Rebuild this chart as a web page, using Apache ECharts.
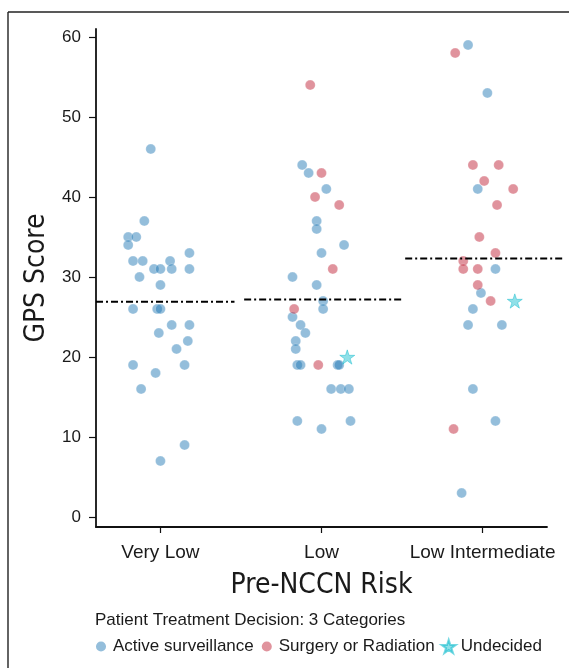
<!DOCTYPE html>
<html>
<head>
<meta charset="utf-8">
<script src="https://cdn.jsdelivr.net/npm/echarts@6/dist/echarts.min.js"></script>
<style>
  html, body { margin: 0; padding: 0; background: #fff; }
  #main { width: 569px; height: 668px; }
</style>
</head>
<body>
<div id="main"></div>
<script>
// categories on the x axis (placed at x = 1, 2, 3, points jittered around them)
const categories = ['Very Low', 'Low', 'Low Intermediate'];
const yTicks = [0, 10, 20, 30, 40, 50, 60];

// [jittered x, GPS score]
const activeSurveillance = [
  // Very Low
  [0.94, 46], [0.90, 37], [0.80, 35], [0.85, 35], [0.80, 34], [1.18, 33],
  [0.83, 32], [0.89, 32], [1.06, 32], [0.96, 31], [1.00, 31], [1.07, 31],
  [1.18, 31], [0.87, 30], [1.00, 29], [0.83, 26], [0.98, 26], [1.00, 26],
  [1.07, 24], [1.18, 24], [0.99, 23], [1.17, 22], [1.10, 21], [0.83, 19],
  [1.15, 19], [0.97, 18], [0.88, 16], [1.15, 9], [1.00, 7],
  // Low
  [1.88, 44], [1.92, 43], [2.03, 41], [1.97, 37], [1.97, 36], [2.14, 34],
  [2.00, 33], [1.82, 30], [1.97, 29], [2.01, 27], [2.01, 26], [1.82, 25],
  [1.87, 24], [1.90, 23], [1.84, 22], [1.84, 21], [1.85, 19], [1.87, 19],
  [2.10, 19], [2.11, 19], [2.06, 16], [2.12, 16], [2.17, 16], [1.85, 12],
  [2.18, 12], [2.00, 11],
  // Low Intermediate
  [2.91, 59], [3.03, 53], [2.97, 41], [3.08, 31], [2.99, 28], [2.94, 26],
  [2.91, 24], [3.12, 24], [2.94, 16], [3.08, 12], [2.87, 3]
];
const surgeryOrRadiation = [
  // Low
  [1.93, 54], [2.00, 43], [1.96, 40], [2.11, 39], [2.07, 31], [1.83, 26], [1.98, 19],
  // Low Intermediate
  [2.83, 58], [2.94, 44], [3.10, 44], [3.01, 42], [3.19, 41], [3.09, 39],
  [2.98, 35], [3.08, 33], [2.88, 32], [2.88, 31], [2.97, 31], [2.97, 29],
  [3.05, 27], [2.82, 11]
];
const undecided = [[2.16, 20], [3.20, 27]];

// group means (dash-dot lines)
const groupMeans = [26.9, 27.2, 32.3];

const starPath = 'path://M50 0 L61.17 34.63 L97.55 34.55 L68.07 55.87 L79.39 90.45 L50 69 L20.61 90.45 L31.93 55.87 L2.45 34.55 L38.83 34.63 Z';
// dot inside a 100x100 box, so the legend circles come out smaller than the star
const dotIcon = 'path://M0 0h0.1v0.1h-0.1z M99.9 99.9h0.1v0.1h-0.1z M50 14a36 36 0 1 0 0.001 0z';

const blue = 'rgba(31,119,180,0.6)';
const red = 'rgba(190,30,50,0.6)';
const teal = 'rgba(23,190,207,0.6)';
const font = "'Liberation Sans', Arial, sans-serif";
const narrow = "'Liberation Sans Narrow', 'DejaVu Sans Condensed', 'Liberation Sans', sans-serif";
const ink = '#1a1a1a';

// mean lines live on a second, invisible grid that runs a bit past the x axis end
const meanSeries = groupMeans.map((m, i) => ({
  name: 'mean ' + categories[i],
  type: 'line',
  xAxisIndex: 1, yAxisIndex: 1,
  data: [[i === 0 ? 0.6 : i + 0.52, m], [i === 0 ? 1.46 : i + 1.5, m]],
  symbol: 'none',
  silent: true,
  z: 5,
  lineStyle: { color: '#000', width: 2, type: [7, 3, 2, 3] }
}));

const chart = echarts.init(document.getElementById('main'));
chart.setOption({
  animation: false,
  title: {
    text: 'Patient Treatment Decision: 3 Categories',
    left: 95, top: 612, padding: 0,
    textStyle: { fontFamily: font, fontSize: 17, fontWeight: 'normal', color: ink }
  },
  legend: {
    left: 94, top: 638, padding: 0,
    itemWidth: 14, itemHeight: 14, itemGap: 6,
    textStyle: { fontFamily: font, fontSize: 17, color: ink },
    data: [
      { name: 'Active surveillance', icon: dotIcon, itemStyle: { borderWidth: 0 } },
      { name: 'Surgery or Radiation', icon: dotIcon, itemStyle: { borderWidth: 0 } },
      { name: 'Undecided', icon: starPath }
    ]
  },
  grid: [
    { left: 96, right: 22, top: 29, bottom: 141, containLabel: false, outerBoundsMode: 'none' },
    { left: 96, right: 6, top: 29, bottom: 141, containLabel: false, outerBoundsMode: 'none' }
  ],
  xAxis: [{
    type: 'value', min: 0.6, max: 3.4,
    name: 'Pre-NCCN Risk', nameLocation: 'middle', nameGap: 45,
    nameTextStyle: { fontFamily: narrow, fontSize: 28, color: ink },
    axisLine: { onZero: false, lineStyle: { color: '#111', width: 1.8 } },
    axisTick: { customValues: [1, 2, 3], length: 6, lineStyle: { color: '#111', width: 1.2 } },
    axisLabel: {
      customValues: [1, 2, 3], margin: 16,
      formatter: v => categories[Math.round(v) - 1],
      fontFamily: font, fontSize: 19, color: ink
    },
    splitLine: { show: false }
  }, {
    type: 'value', gridIndex: 1, min: 0.6, max: 3.5, show: false
  }],
  yAxis: [{
    type: 'value', min: -1.25, max: 61,
    name: 'GPS Score', nameLocation: 'middle', nameGap: 42,
    nameTextStyle: { fontFamily: narrow, fontSize: 28, color: ink },
    axisLine: { show: true, onZero: false, lineStyle: { color: '#111', width: 1.8 } },
    axisTick: { show: true, customValues: yTicks, length: 7, lineStyle: { color: '#111', width: 1.2 } },
    axisLabel: { customValues: yTicks, margin: 15, fontFamily: font, fontSize: 17, color: ink },
    splitLine: { show: false }
  }, {
    type: 'value', gridIndex: 1, min: -1.25, max: 61, show: false
  }],
  graphic: [
    { type: 'line', shape: { x1: 8, y1: 12, x2: 8, y2: 668 }, style: { stroke: '#222', lineWidth: 1.4 } },
    { type: 'line', shape: { x1: 8, y1: 12, x2: 569, y2: 12 }, style: { stroke: '#222', lineWidth: 1.4 } }
  ],
  series: [
    {
      name: 'Active surveillance', type: 'scatter', data: activeSurveillance,
      symbol: 'circle', symbolSize: 10,
      itemStyle: { color: blue, borderColor: 'rgba(255,255,255,0.5)', borderWidth: 0.6 }
    },
    {
      name: 'Surgery or Radiation', type: 'scatter', data: surgeryOrRadiation,
      symbol: 'circle', symbolSize: 10,
      itemStyle: { color: red, borderColor: 'rgba(255,255,255,0.5)', borderWidth: 0.6 }
    },
    {
      name: 'Undecided', type: 'scatter', data: undecided,
      symbol: starPath, symbolSize: 15, symbolKeepAspect: true,
      itemStyle: { color: teal, borderColor: 'rgba(23,190,207,0.75)', borderWidth: 0.8 }
    }
  ].concat(meanSeries)
});
</script>
</body>
</html>
